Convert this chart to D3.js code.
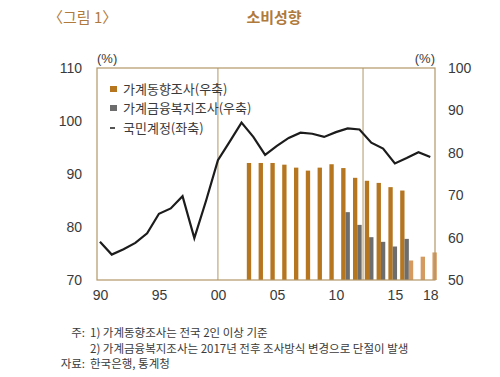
<!DOCTYPE html>
<html>
<head>
  <meta charset="utf-8">
  <title>소비성향</title>
  <script src="https://d3js.org/d3.v7.min.js"></script>
  <style>
    body { margin: 0; background: #fff; }
    svg text { font-family: "Noto Sans CJK KR", "Liberation Sans", sans-serif; }
    .num { font-family: "Liberation Sans", "DejaVu Sans", sans-serif; }
  </style>
</head>
<body>
  <svg id="chart"></svg>

  <script>
    // national accounts (left axis)
    let lineYears = d3.range(1990, 2019);
    let lineValues = [77.2, 74.8, 75.8, 77.0, 78.8, 82.5, 83.5, 85.8, 77.9, 85.0,
                      92.6, 96.1, 99.7, 97.0, 93.6, 95.3, 96.8, 97.8, 97.6, 97.0,
                      97.9, 98.6, 98.4, 95.9, 94.8, 92.0, 93.0, 94.1, 93.2];

    // household trend survey (right axis)
    let dongYears = d3.range(2003, 2017);
    let dongValues = [77.6, 77.6, 77.6, 77.2, 76.5, 75.8, 76.5, 77.3, 76.4, 74.1, 73.4, 72.9, 71.9, 71.1];

    // household finance & welfare survey (right axis)
    let geumYears = d3.range(2011, 2017);
    let geumValues = [66.0, 63.0, 60.1, 59.0, 57.9, 59.7];

    // after survey change
    let newYears = [2016, 2017, 2018];
    let newValues = [54.6, 55.5, 56.5];

    let xTicks = [1990, 1995, 2000, 2005, 2010, 2015, 2018];
    let leftTicks = [70, 80, 90, 100, 110];
    let rightTicks = [50, 60, 70, 80, 90, 100];
    let breakYears = [2000, 2012.3];

    let legendLabels = ["가계동향조사(우축)", "가계금융복지조사(우축)", "국민계정(좌축)"];
    let notes = ["1) 가계동향조사는 전국 2인 이상 기준",
                 "2) 가계금융복지조사는 2017년 전후 조사방식 변경으로 단절이 발생"];

    let width = 500, height = 377;
    let box = {left: 97, right: 435, top: 68, bottom: 280};
    let frameColor = "#b39766";
    let titleColor = "#b07a3c";
    let textColor = "#3a3a3a";
    let cDong = "#b5761f", cGeum = "#6d6d6d", cNew = "#d49a5f";

    let svg = d3.select("#chart")
                .attr("width", width)
                .attr("height", height);

    let x = d3.scaleLinear()
              .domain([1989.75, 2018.4])
              .range([box.left, box.right]);

    let yL = d3.scaleLinear().domain([70, 110]).range([box.bottom, box.top]);
    let yR = d3.scaleLinear().domain([50, 100]).range([box.bottom, box.top]);

    // sub-slots within each year
    let slot = d3.scaleBand()
                 .domain(["dong", "geum", "new"])
                 .range([-6.5, 6.5])
                 .padding(0);

    // titles
    svg.append("text")
       .attr("x", 48).attr("y", 23)
       .style("font-size", "15px")
       .style("fill", titleColor)
       .text("〈그림 1〉");

    svg.append("text")
       .attr("x", 274).attr("y", 23)
       .attr("text-anchor", "middle")
       .style("font-size", "15px")
       .style("font-weight", "bold")
       .style("fill", titleColor)
       .text("소비성향");

    // unit labels
    svg.append("text")
       .attr("class", "num")
       .attr("x", box.left).attr("y", 63)
       .style("font-size", "13px").style("fill", textColor)
       .text("(%)");
    svg.append("text")
       .attr("class", "num")
       .attr("x", box.right).attr("y", 63)
       .attr("text-anchor", "end")
       .style("font-size", "13px").style("fill", textColor)
       .text("(%)");

    // bars
    function bars(years, values, key, color) {
      svg.append("g")
         .selectAll("rect")
         .data(years.map(function(d, i) { return {year: d, value: values[i]}; }))
         .enter()
         .append("rect")
         .attr("x", function(d) { return x(d.year) + slot(key); })
         .attr("width", slot.bandwidth())
         .attr("y", function(d) { return yR(d.value); })
         .attr("height", function(d) { return box.bottom - yR(d.value); })
         .style("fill", color);
    }
    bars(dongYears, dongValues, "dong", cDong);
    bars(geumYears, geumValues, "geum", cGeum);
    bars(newYears, newValues, "new", cNew);

    // frame and break lines
    svg.append("rect")
       .attr("x", box.left).attr("y", box.top)
       .attr("width", box.right - box.left)
       .attr("height", box.bottom - box.top)
       .style("fill", "none")
       .style("stroke", frameColor)
       .style("stroke-width", 1.2);

    svg.append("g")
       .selectAll("line")
       .data(breakYears)
       .enter()
       .append("line")
       .attr("x1", function(d) { return x(d); })
       .attr("x2", function(d) { return x(d); })
       .attr("y1", box.top).attr("y2", box.bottom)
       .style("stroke", frameColor)
       .style("stroke-width", 1);

    // line
    let line = d3.line()
                 .x(function(d) { return x(d.year); })
                 .y(function(d) { return yL(d.value); });

    svg.append("path")
       .datum(lineYears.map(function(d, i) { return {year: d, value: lineValues[i]}; }))
       .attr("d", line)
       .style("fill", "none")
       .style("stroke", "#1c1c1c")
       .style("stroke-width", 2.2)
       .style("stroke-linejoin", "miter");

    // axes
    function styleAxis(g) {
      g.select(".domain").remove();
      g.selectAll("text")
       .attr("class", "num")
       .style("font-size", "14px")
       .style("fill", textColor);
    }

    svg.append("g")
       .attr("transform", "translate(" + box.left + ",0)")
       .call(d3.axisLeft(yL).tickValues(leftTicks).tickSize(0).tickPadding(15))
       .call(styleAxis);

    svg.append("g")
       .attr("transform", "translate(" + box.right + ",0)")
       .call(d3.axisRight(yR).tickValues(rightTicks).tickSize(0).tickPadding(13))
       .call(styleAxis);

    svg.append("g")
       .attr("transform", "translate(0," + box.bottom + ")")
       .call(d3.axisBottom(x).tickValues(xTicks).tickSize(0).tickPadding(10)
               .tickFormat(function(d) { return String(d).slice(2); }))
       .call(styleAxis);

    // legend
    let legend = svg.append("g").attr("transform", "translate(110,0)");
    let legendY = [89, 108, 128];
    legend.append("rect").attr("x", 0).attr("y", legendY[0] - 3).attr("width", 7).attr("height", 6).style("fill", cDong);
    legend.append("rect").attr("x", 0).attr("y", legendY[1] - 3).attr("width", 7).attr("height", 6).style("fill", cGeum);
    legend.append("line").attr("x1", 0).attr("x2", 5).attr("y1", legendY[2]).attr("y2", legendY[2])
          .style("stroke", "#1c1c1c").style("stroke-width", 1.5);
    legend.selectAll("text.lab")
          .data(legendLabels)
          .enter()
          .append("text")
          .attr("class", "lab")
          .attr("x", 13)
          .attr("y", function(d, i) { return legendY[i]; })
          .attr("dy", "0.35em")
          .style("font-size", "13px")
          .style("fill", textColor)
          .text(function(d) { return d; });

    // notes
    let noteG = svg.append("g").style("font-size", "11.5px").style("fill", textColor);
    noteG.append("text").attr("x", 85).attr("y", 337).attr("text-anchor", "end").text("주:");
    noteG.append("text").attr("x", 90).attr("y", 337).text(notes[0]);
    noteG.append("text").attr("x", 90).attr("y", 353).text(notes[1]);
    noteG.append("text").attr("x", 85).attr("y", 368).attr("text-anchor", "end").text("자료:");
    noteG.append("text").attr("x", 90).attr("y", 368).text("한국은행, 통계청");
  </script>
</body>
</html>
